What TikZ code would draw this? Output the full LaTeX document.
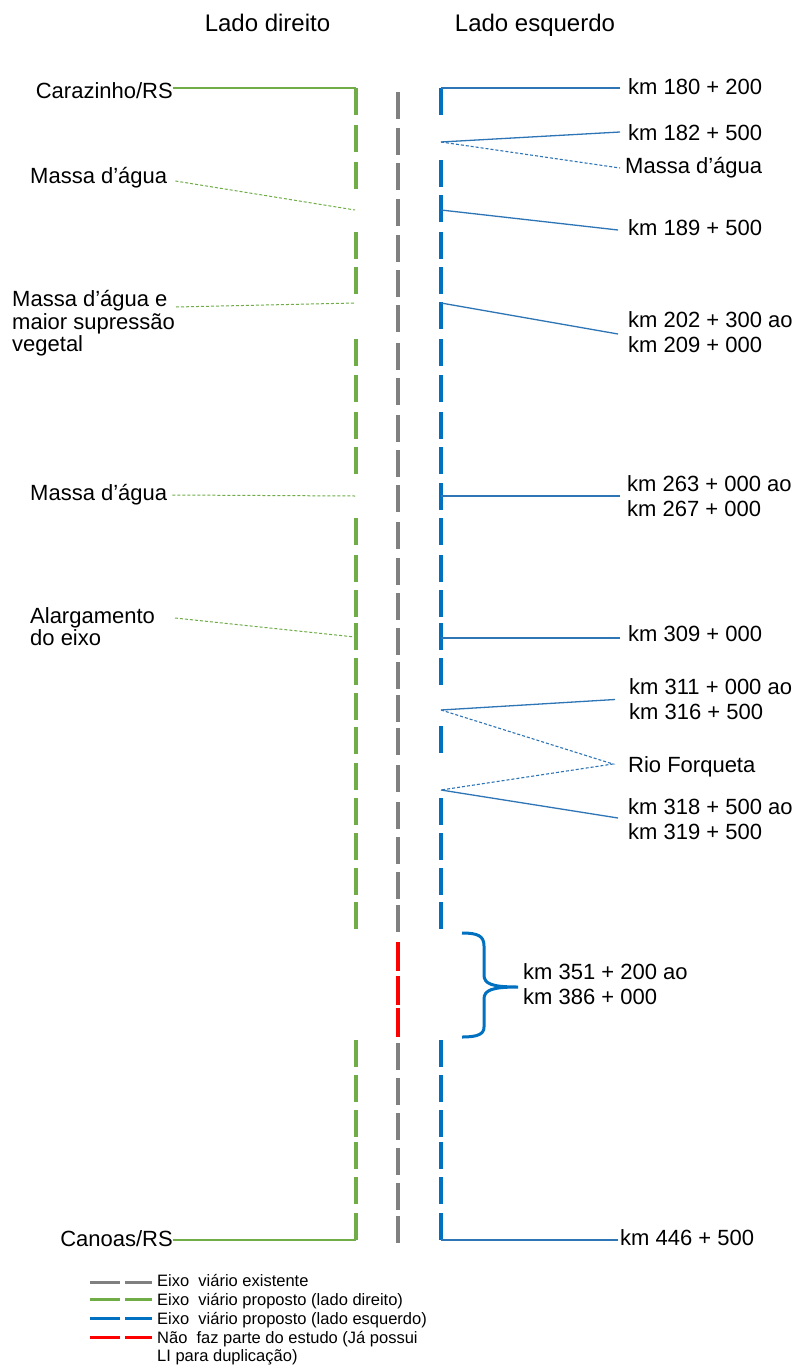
\documentclass[tikz,border=0pt]{standalone}
\usepackage{fontspec}
\setmainfont{Liberation Sans}
\definecolor{cgreen}{RGB}{112,173,71}
\definecolor{cblue}{RGB}{0,112,192}
\definecolor{cline}{RGB}{46,117,182}
\definecolor{cgray}{RGB}{128,128,128}
\definecolor{cred}{RGB}{255,0,0}
\tikzset{
  lab/.style={inner sep=0pt, font=\fontsize{22}{25}\selectfont, align=left},
  labl/.style={inner sep=0pt, font=\fontsize{22}{22.7}\selectfont, align=left},
  head/.style={inner sep=0pt, font=\fontsize{24}{28}\selectfont},
  leg/.style={inner sep=0pt, font=\fontsize{16.5}{18.5}\selectfont, align=left},
  colg/.style={draw=cgreen, line width=4pt},
  colk/.style={draw=cgray, line width=4pt},
  colb/.style={draw=cblue, line width=4pt},
  colr/.style={draw=cred, line width=4pt},
  gsolid/.style={draw=cgreen, line width=1.2pt},
  gdash/.style={draw=cgreen, line width=1pt, dash pattern=on 3pt off 2pt},
  bsolid/.style={draw=cline, line width=1.3pt},
  bdash/.style={draw=cline, line width=1.1pt, dash pattern=on 3pt off 2pt},
  legline/.style={line width=3pt},
}
\begin{document}
\begin{tikzpicture}[x=1pt,y=-1pt]
\useasboundingbox[fill=white] (0,0) rectangle (801,1370);
% headers
\node[head, anchor=base] (hd) at (267.5,31.6) {Lado direito};
\node[head, anchor=base] (he) at (535,31.6) {Lado esquerdo};
% column dashes
\foreach \y in {88,125,162,232,267,339,375,412,447,518,555,590,623,658,693,727,763,798,833,868,902,1040,1075,1110,1142,1177,1213}
  \draw[colg] (355.5,\y) -- ++(0,27);
\foreach \y in {92,128,163,199,235,270,305,343,378,415,450,485,522,558,593,628,662,695,728,765,802,837,872,905,1043,1078,1113,1148,1183,1216}
  \draw[colk] (398,\y) -- ++(0,27);
\foreach \y in {942,976,1008}
  \draw[colr] (398,\y) -- ++(0,29);
\foreach \y in {88,160,195,232,267,302,339,375,412,447,483,518,555,590,623,658,726,798,833,868,902,1040,1075,1110,1142,1177,1213}
  \draw[colb] (441,\y) -- ++(0,27);
% attachment points
\coordinate (g0) at (355.5,88);
\coordinate (g1) at (355,210);
\coordinate (g2) at (355,303);
\coordinate (g3) at (355,496);
\coordinate (g4) at (355,637);
\coordinate (g5) at (355.5,1240);
\coordinate (b0) at (441,88);
\coordinate (b1) at (441,142);
\coordinate (b2) at (441,210);
\coordinate (b3) at (441,303);
\coordinate (b4) at (441,496);
\coordinate (b5) at (441,638);
\coordinate (b6) at (441,710);
\coordinate (b7) at (441,790);
\coordinate (b8) at (441,1240);
% left labels
\node[lab, anchor=base east] (caraz) at (173,99) {Carazinho/RS};
\node[lab, anchor=base west] (m1) at (30,183) {Massa d’água};
\node[labl, anchor=north west] (m2) at (12,290) {Massa d’água e\\maior supressão\\vegetal};
\coordinate (m2p) at (176,307);
\node[lab, anchor=base west] (m3) at (30,500) {Massa d’água};
\node[labl, anchor=north west] (alarg) at (30,607) {Alargamento\\do eixo};
\coordinate (alp) at (175,618);
\node[lab, anchor=base east] (canoas) at (173,1246) {Canoas/RS};
% left connectors
\draw[gsolid] ([yshift=11pt]caraz.base east) -- (g0);
\draw[gdash] ([shift={(8pt,2pt)}]m1.base east) -- (g1);
\draw[gdash] (m2p) -- (g2);
\draw[gdash] ([shift={(5pt,5pt)}]m3.base east) -- (g3);
\draw[gdash] (alp) -- (g4);
\draw[gsolid] ([yshift=6pt]canoas.base east) -- (g5);
% right labels
\node[lab, anchor=base west] (k180) at (628,95) {km 180 + 200};
\node[lab, anchor=base west] (k182) at (628,141) {km 182 + 500};
\node[lab, anchor=base west] (mR) at (625,173) {Massa d’água};
\node[lab, anchor=base west] (k189) at (628,235) {km 189 + 500};
\node[lab, anchor=west] (k202) at (628,332.5) {km 202 + 300 ao\\km 209 + 000};
\node[lab, anchor=west] (k263) at (627,496) {km 263 + 000 ao\\km 267 + 000};
\node[lab, anchor=base west] (k309) at (628,641) {km 309 + 000};
\node[lab, anchor=west] (k311) at (629,699.5) {km 311 + 000 ao\\km 316 + 500};
\node[lab, anchor=base west] (rio) at (628,772) {Rio Forqueta};
\node[lab, anchor=west] (k318) at (628,819) {km 318 + 500 ao\\km 319 + 500};
\node[lab, anchor=west] (k351) at (523,984) {km 351 + 200 ao\\km 386 + 000};
\node[lab, anchor=base west] (k446) at (620,1245) {km 446 + 500};
% right connectors
\draw[bsolid] (b0) -- ([shift={(-8pt,7pt)}]k180.base west);
\draw[bsolid] (b1) -- ([shift={(-8pt,9pt)}]k182.base west);
\draw[bdash] (b1) -- ([shift={(-5pt,5pt)}]mR.base west);
\draw[bsolid] (b2) -- ([shift={(-10pt,5pt)}]k189.base west);
\draw[bsolid] (b3) -- ([shift={(-10pt,-1.5pt)}]k202.west);
\draw[bsolid] (b4) -- ([xshift=-7pt]k263.west);
\draw[bsolid] (b5) -- ([shift={(-8pt,3pt)}]k309.base west);
\draw[bsolid] (b6) -- ([xshift=-14pt]k311.west);
\draw[bdash] (b6) -- ([shift={(-15pt,8pt)}]rio.base west) -- (b7);
\draw[bsolid] (b7) -- ([shift={(-10pt,1pt)}]k318.west);
\draw[bsolid] (b8) -- ([shift={(-2pt,5pt)}]k446.base west);
% brace
\coordinate (brtip) at (518,987);
\draw[draw=cblue, line width=3pt]
  (462,933) .. controls (478,933) and (484,936) .. (484,946) -- (484,975)
  .. controls (484,984) and (492,987) .. (brtip)
  .. controls (492,987) and (484,990) .. (484,999) -- (484,1027)
  .. controls (484,1034) and (478,1037) .. (462,1037);
% legend
\foreach \y/\c in {1282/cgray,1299/cgreen,1318/cblue,1337/cred}{
  \draw[legline, draw=\c] (90,\y) -- (120,\y);
  \draw[legline, draw=\c] (125,\y) -- (152,\y);
}
\node[leg, anchor=base west] (l1) at (157,1286) {Eixo\ \ viário existente};
\node[leg, anchor=base west] (l2) at (157,1305) {Eixo\ \ viário proposto (lado direito)};
\node[leg, anchor=base west] (l3) at (157,1324) {Eixo\ \ viário proposto (lado esquerdo)};
\node[leg, anchor=north west] (l4) at (157,1331) {Não\ \ faz parte do estudo (Já possui\\LI para duplicação)};
\end{tikzpicture}
\end{document}
